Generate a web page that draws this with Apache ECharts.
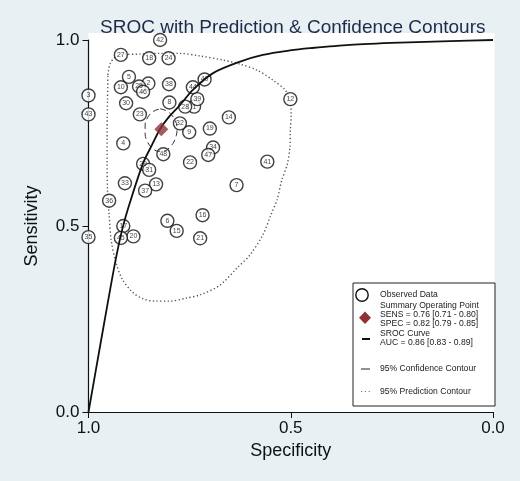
<!DOCTYPE html>
<html><head><meta charset="utf-8">
<script src="https://cdn.jsdelivr.net/npm/echarts@6/dist/echarts.min.js"></script>
<style>html,body{margin:0;padding:0;background:#e8f0f3;}#c{width:520px;height:481px;}</style>
</head><body><div id="c"></div>
<script>
// Study labels and observed (specificity, sensitivity)
const studyIds = [1,2,3,4,5,6,7,8,9,10,12,13,14,15,16,17,18,19,20,21,22,23,24,25,27,28,29,30,31,32,33,34,35,36,37,38,39,40,41,42,43,44,45,46,47,48];
const studySpec = [0.739,0.852,1.0,0.914,0.900,0.805,0.634,0.800,0.751,0.920,0.501,0.833,0.653,0.782,0.718,0.914,0.850,0.700,0.889,0.724,0.749,0.873,0.802,0.875,0.920,0.761,0.865,0.907,0.850,0.774,0.910,0.692,1.0,0.949,0.860,0.801,0.731,0.713,0.558,0.823,1.0,0.742,0.920,0.865,0.704,0.815];
const studySens = [0.821,0.883,0.851,0.722,0.901,0.514,0.610,0.832,0.752,0.873,0.841,0.612,0.792,0.487,0.529,0.500,0.951,0.762,0.472,0.467,0.671,0.800,0.951,0.875,0.960,0.821,0.667,0.830,0.651,0.776,0.615,0.711,0.470,0.568,0.595,0.881,0.841,0.894,0.673,1.0,0.800,0.873,0.468,0.861,0.691,0.693];

// Summary operating point
const summarySpec = 0.82, summarySens = 0.76;
const sensText = "SENS = 0.76 [0.71 - 0.80]";
const specText = "SPEC = 0.82 [0.79 - 0.85]";
const aucText = "AUC = 0.86 [0.83 - 0.89]";

// SROC curve
const srocSpec = [1.0,0.984,0.959,0.934,0.917,0.897,0.865,0.843,0.823,0.799,0.774,0.742,0.692,0.625,0.569,0.502,0.452,0.354,0.230,0.106,0.0];
const srocSens = [0.0,0.099,0.253,0.403,0.489,0.565,0.669,0.718,0.761,0.796,0.825,0.866,0.911,0.942,0.960,0.972,0.978,0.987,0.993,0.997,1.0];

// 95% confidence contour
const confSpec = [0.823,0.808,0.794,0.785,0.781,0.783,0.789,0.799,0.811,0.828,0.843,0.854,0.860,0.860,0.853,0.840,0.823];
const confSens = [0.815,0.810,0.798,0.782,0.763,0.743,0.726,0.712,0.702,0.701,0.710,0.726,0.747,0.772,0.793,0.808,0.815];

// 95% prediction contour
const predSpec = [0.952,0.947,0.934,0.910,0.873,0.823,0.774,0.724,0.667,0.625,0.583,0.544,0.514,0.502,0.499,0.501,0.502,0.509,0.522,0.534,0.549,0.569,0.601,0.633,0.675,0.724,0.759,0.799,0.836,0.865,0.892,0.917,0.932,0.944,0.949,0.953,0.954,0.954,0.953,0.952];
const predSens = [0.906,0.935,0.954,0.961,0.962,0.964,0.964,0.957,0.946,0.935,0.919,0.892,0.866,0.839,0.798,0.758,0.712,0.664,0.624,0.570,0.530,0.476,0.422,0.387,0.341,0.315,0.306,0.298,0.298,0.304,0.323,0.358,0.401,0.462,0.530,0.597,0.677,0.758,0.839,0.906];

const chart = echarts.init(document.getElementById('c'), null, {renderer:'canvas'});
const FONT = '"Liberation Sans", Arial, sans-serif';
const zip = (a,b) => a.map((v,i)=>[v,b[i]]);

const legendItems = [
  {type:'rect', shape:{x:353,y:283,width:142,height:123}, style:{fill:'#fff',stroke:'#222',lineWidth:1}},
  {type:'circle', shape:{cx:362,cy:295,r:6.2}, style:{fill:'#fff',stroke:'#111',lineWidth:1.4}},
  {type:'text', x:380, y:295, style:{text:'Observed Data', font:'8.6px '+FONT, fill:'#222', verticalAlign:'middle'}},
  {type:'polygon', shape:{points:[[365,311.5],[371,317.7],[365,323.9],[359,317.7]]}, style:{fill:'#8e3236'}},
  {type:'text', x:380, y:306, style:{text:'Summary Operating Point', font:'8.6px '+FONT, fill:'#222', verticalAlign:'middle'}},
  {type:'text', x:380, y:315, style:{text:sensText, font:'8.6px '+FONT, fill:'#222', verticalAlign:'middle'}},
  {type:'text', x:380, y:324, style:{text:specText, font:'8.6px '+FONT, fill:'#222', verticalAlign:'middle'}},
  {type:'line', shape:{x1:362,y1:339,x2:370,y2:339}, style:{stroke:'#111',lineWidth:2}},
  {type:'text', x:380, y:334, style:{text:'SROC Curve', font:'8.6px '+FONT, fill:'#222', verticalAlign:'middle'}},
  {type:'text', x:380, y:343, style:{text:aucText, font:'8.6px '+FONT, fill:'#222', verticalAlign:'middle'}},
  {type:'line', shape:{x1:361,y1:369,x2:370,y2:369}, style:{stroke:'#222',lineWidth:1}},
  {type:'text', x:380, y:369, style:{text:'95% Confidence Contour', font:'8.6px '+FONT, fill:'#222', verticalAlign:'middle'}},
  {type:'line', shape:{x1:361,y1:391.5,x2:371,y2:391.5}, style:{stroke:'#777',lineWidth:1.2,lineDash:[1.2,2.6]}},
  {type:'text', x:380, y:391.5, style:{text:'95% Prediction Contour', font:'8.6px '+FONT, fill:'#222', verticalAlign:'middle'}}
];

chart.setOption({
  backgroundColor:'#e8f0f3',
  animation:false,
  title:{text:'SROC with Prediction & Confidence Contours', left:95, top:13,
    textStyle:{fontFamily:FONT, fontSize:19, fontWeight:'normal', color:'#1c2b48'}},
  grid:{left:88.5, right:27, top:40, bottom:69, containLabel:false},
  xAxis:{type:'value', inverse:true, min:0, max:1, interval:0.5,
    name:'Specificity', nameLocation:'middle', nameGap:27,
    nameTextStyle:{fontFamily:FONT, fontSize:18, color:'#111'},
    axisLine:{show:true, onZero:false, lineStyle:{color:'#111', width:1.2}},
    axisTick:{show:true, length:6, lineStyle:{color:'#111'}},
    axisLabel:{fontFamily:FONT, fontSize:17, color:'#111', margin:8, formatter:v=>v.toFixed(1)},
    splitLine:{show:false}},
  yAxis:{type:'value', min:0, max:1, interval:0.5,
    name:'Sensitivity', nameLocation:'middle', nameGap:47,
    nameTextStyle:{fontFamily:FONT, fontSize:18, color:'#111'},
    axisLine:{show:true, onZero:false, lineStyle:{color:'#111', width:1.2}},
    axisTick:{show:true, length:6, lineStyle:{color:'#111'}},
    axisLabel:{fontFamily:FONT, fontSize:17, color:'#111', margin:9, formatter:v=>v.toFixed(1)},
    splitLine:{show:false}},
  graphic:[
    {type:'rect', z:-10, silent:true, shape:{x:88.5,y:33,width:406,height:379}, style:{fill:'#ffffff'}},
    {type:'group', z:100, children:legendItems}
  ],
  series:[
    {type:'line', name:'pred', data:zip(predSpec,predSens), symbol:'none', smooth:0.3, clip:false, z:1,
      lineStyle:{color:'#555', width:1.4, type:[1.3,2.4]}},
    {type:'scatter', name:'obs', data:studyIds.map((id,i)=>[studySpec[i],studySens[i],id]),
      symbol:'circle', symbolSize:13, clip:false, z:3,
      itemStyle:{color:'#fff', borderColor:'#111', borderWidth:1.4},
      label:{show:true, position:'inside', formatter:p=>String(p.value[2]), fontFamily:FONT, fontSize:7, color:'#111'}},
    {type:'line', name:'conf', data:zip(confSpec,confSens), symbol:'none', smooth:0.4, clip:false, z:4,
      lineStyle:{color:'#333', width:1, type:[6,4]}},
    {type:'line', name:'sroc', data:zip(srocSpec,srocSens), symbol:'none', smooth:0.3, clip:false, z:5,
      lineStyle:{color:'#111', width:1.8}},
    {type:'scatter', name:'summary', data:[[summarySpec,summarySens]], symbol:'diamond', symbolSize:14, z:6,
      itemStyle:{color:'#8e3236'}}
  ]
});
</script></body></html>
